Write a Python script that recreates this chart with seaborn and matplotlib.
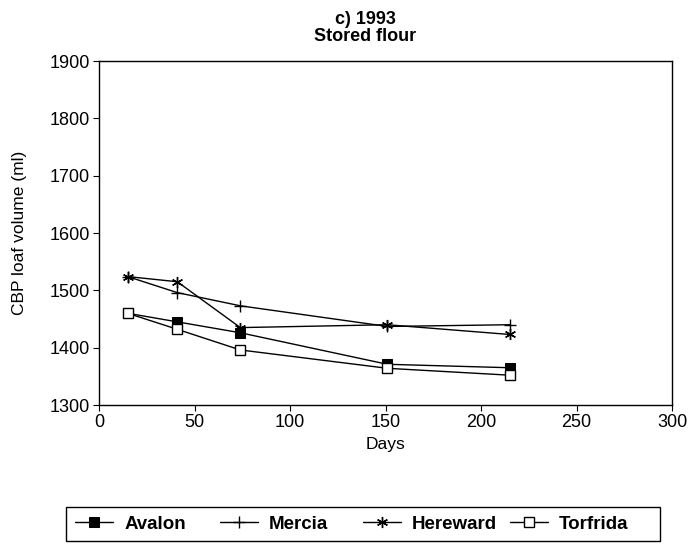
import matplotlib
matplotlib.use("Agg")
import matplotlib.pyplot as plt
import matplotlib.patches as mpatches
import seaborn as sns
import pandas as pd

sns.set_theme(style="ticks")
plt.rcParams['font.family'] = ['Liberation Sans', 'DejaVu Sans']
plt.rcParams['text.color'] = 'black'

days = [15, 41, 74, 151, 215]
avalon = [1460, 1445, 1426, 1371, 1365]
mercia = [1524, 1496, 1473, 1437, 1440]
hereward = [1524, 1515, 1435, 1440, 1423]
torfrida = [1460, 1432, 1396, 1364, 1352]

series = {"Avalon": avalon, "Mercia": mercia, "Hereward": hereward, "Torfrida": torfrida}
styles = {
    "Avalon": dict(marker="s", markersize=6.5, markerfacecolor="black", markeredgecolor="black"),
    "Mercia": dict(marker="+", markersize=8, markeredgewidth=1.0, markeredgecolor="black"),
    "Hereward": dict(marker=(6, 2, 0), markersize=8, markeredgewidth=1.0, markeredgecolor="black"),
    "Torfrida": dict(marker="s", markersize=6.5, markerfacecolor="white", markeredgecolor="black", markeredgewidth=1.0),
}

rows = []
for name, vals in series.items():
    for d, v in zip(days, vals):
        rows.append({"Days": d, "Volume": v, "Cultivar": name})
df = pd.DataFrame(rows)

fig = plt.figure(figsize=(6.9, 5.44), dpi=100)
ax = fig.add_axes([99/690, 1 - 405/544, (672 - 99)/690, (405 - 61)/544])

for name in series:
    sub = df[df["Cultivar"] == name]
    sns.lineplot(data=sub, x="Days", y="Volume", ax=ax, color="black", linewidth=1.0,
                 label=name, legend=False, **styles[name])

ax.set_xlim(0, 300)
ax.set_ylim(1300, 1900)
ax.set_xticks([0, 50, 100, 150, 200, 250, 300])
ax.set_yticks([1300, 1400, 1500, 1600, 1700, 1800, 1900])
ax.tick_params(axis="both", direction="out", length=4.5, width=0.8, labelsize=13,
               color="black", labelcolor="black", pad=2)
for s in ax.spines.values():
    s.set_visible(True)
    s.set_color("black")
    s.set_linewidth(1.0)
ax.set_xlabel("Days", fontsize=12.5, color="black", labelpad=4)
ax.set_ylabel("CBP loaf volume (ml)", fontsize=12.5, color="black")
ax.yaxis.set_label_coords((27 - 99) / 573, 0.5)
ax.grid(False)

fig.text(365/690, 1 - 24/544, "c) 1993", ha="center", va="baseline", fontsize=13,
         fontweight="bold", color="black")
fig.text(365/690, 1 - 41/544, "Stored flour", ha="center", va="baseline", fontsize=13,
         fontweight="bold", color="black")

# legend frame
frame = mpatches.Rectangle((66/690, 3/544), (660 - 66)/690, (541 - 507)/544,
                           transform=fig.transFigure, fill=False, edgecolor="black", linewidth=1.0)
fig.patches.append(frame)

handles, labels = ax.get_legend_handles_labels()
common = dict(loc="center left", borderaxespad=0, frameon=False, borderpad=0.5,
              handlelength=2.0, handletextpad=0.6, columnspacing=1.85,
              labelcolor="black", prop={"weight": "bold", "size": 13.5})
fig.legend(handles[:3], labels[:3], ncol=3, bbox_to_anchor=(66/690, 20/544), **common)
fig.legend(handles[3:], labels[3:], ncol=1, bbox_to_anchor=(501/690, 20/544), **common)

fig.savefig("out.png", dpi=100, facecolor="white")
